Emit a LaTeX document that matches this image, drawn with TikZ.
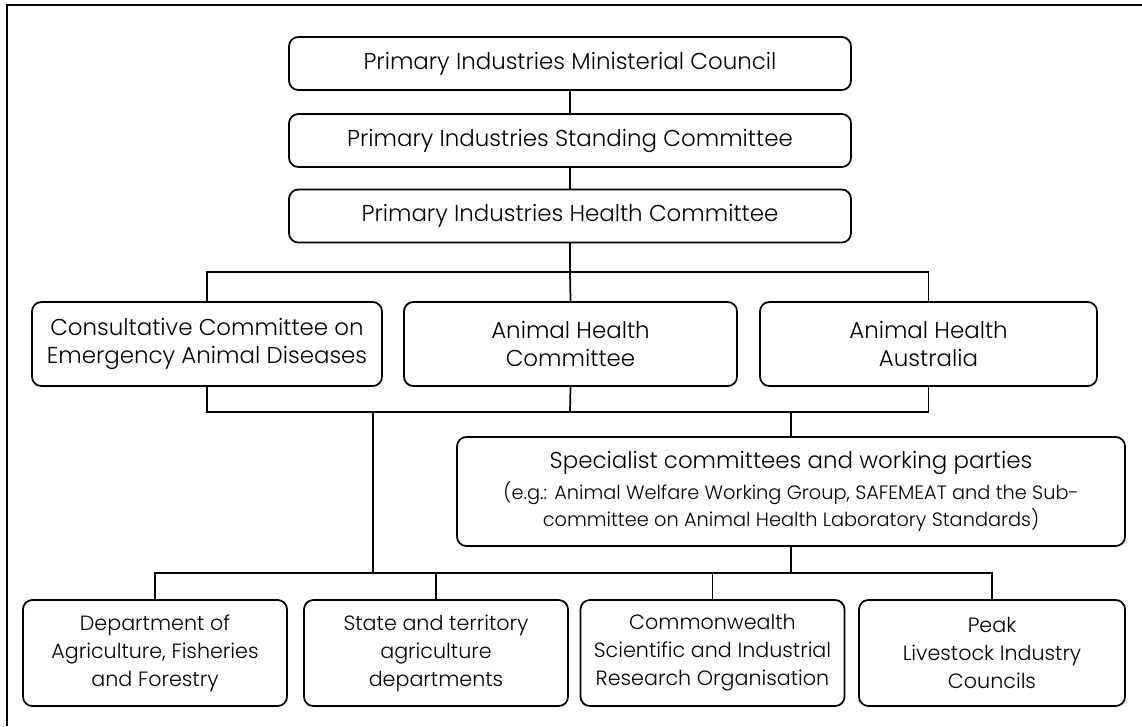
\documentclass[tikz,border=0pt]{standalone}
\usepackage{fontspec}
\setmainfont{Poppins}[UprightFont=* Light]
\tikzset{
  orgbox/.style={draw, line width=1.3pt, rounded corners=7pt, align=center, inner sep=0pt,
    font=\fontsize{17.2}{20.8}\selectfont},
  topbox/.style={orgbox, minimum width=421.5pt, minimum height=39.75pt},
  midbox/.style={orgbox, minimum height=63pt},
  lowbox/.style={orgbox, minimum width=198pt, minimum height=79.5pt,
    font=\fontsize{15.5}{21}\selectfont},
  link/.style={line width=1.3pt}
}
\newcommand{\smalltxt}{\fontsize{14.5}{18.75}\selectfont}
\begin{document}
\begin{tikzpicture}[x=0.75pt,y=0.75pt,yscale=-1,xscale=1]
\useasboundingbox (0,0) rectangle (1142,726);
%Frame
\draw [line width=1.3pt] (7,726) -- (7,5) -- (1142,5);

%Top boxes
\node [topbox] (pimc) at (570,63.5) {Primary Industries Ministerial Council};
\node [topbox] (pisc) at (570,140.5) {Primary Industries Standing Committee};
\node [topbox] (pihc) at (570,216) {Primary Industries Health Committee};

%Middle row
\node [midbox, minimum width=262.5pt] (ccead) at (207,344) {Consultative Committee on\\Emergency Animal Diseases};
\node [midbox, minimum width=249.75pt] (ahc) at (570.5,344) {Animal Health\\Committee};
\node [midbox, minimum width=252.75pt] (aha) at (928.5,344) {Animal Health\\Australia};

%Specialist committees
\node [orgbox, minimum width=501pt, minimum height=81.75pt] (spec) at (791,491.5) {Specialist committees and working parties\\[2.25pt]
  \smalltxt (e.g.: Animal Welfare Working Group, SAFEMEAT and the Sub-\\
  \smalltxt committee on Animal Health Laboratory Standards)};

%Bottom row
\node [lowbox] (dept) at (155,653) {Department of\\Agriculture, Fisheries\\and Forestry};
\node [lowbox] (state) at (436,653) {State and territory\\agriculture\\departments};
\node [lowbox] (csiro) at (712.5,653) {Commonwealth\\Scientific and Industrial\\Research Organisation};
\node [lowbox, minimum width=199.5pt] (peak) at (992,653) {Peak\\Livestock Industry\\Councils};

%Junction points
\coordinate (upbus) at (570,272);
\coordinate (midbus) at (570,412);
\coordinate (midleft) at (373,412);
\coordinate (lowbus) at (373,573);

%Connectors
\draw [link] (pimc) -- (pisc);
\draw [link] (pisc) -- (pihc);
\draw [link] (pihc) -- (upbus);
\draw [link] (ccead.north) |- (upbus) -| (aha.north);
\draw [link] (upbus) -- (ahc.north);
\draw [link] (ccead.south) |- (midbus) -| (aha.south);
\draw [link] (ahc.south) -- (midbus);
\draw [link] (spec.north) -- (spec.north |- midbus);
\draw [link] (midleft) -- (lowbus);
\draw [link] (dept.north) |- (lowbus) -| (peak.north);
\draw [link] (spec.south) -- (spec.south |- lowbus);
\draw [link] (state.north) -- (state.north |- lowbus);
\draw [link] (csiro.north) -- (csiro.north |- lowbus);

\end{tikzpicture}
\end{document}
